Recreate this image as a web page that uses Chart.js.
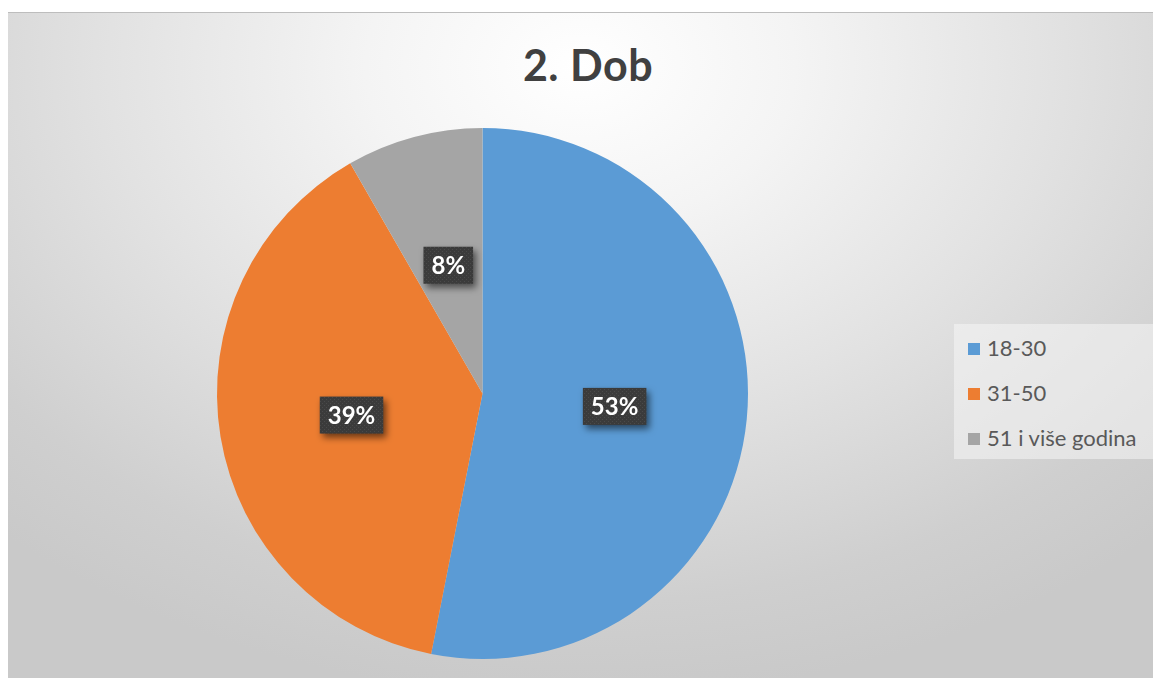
<!DOCTYPE html>
<html>
<head>
<meta charset="utf-8">
<script src="https://cdn.jsdelivr.net/npm/chart.js@4/dist/chart.umd.min.js"></script>
<style>
  html, body { margin: 0; padding: 0; background: #fff; }
  body { width: 1153px; height: 678px; position: relative; overflow: hidden; font-family: Lato, "Open Sans", sans-serif; }
  #frame {
    position: absolute; left: 8px; top: 12px; width: 1145px; height: 666px;
    background: radial-gradient(ellipse 75% 95% at 50% 8%, #ffffff 0%, #f4f4f4 25%, #e2e2e2 55%, #cfcfcf 85%, #c9c9c9 100%);
    border-top: 1px solid #bdbdbd;
    box-sizing: border-box;
  }
  #title {
    position: absolute; left: 0; top: 26px; width: 1160px; text-align: center;
    font-size: 43px; font-weight: bold; color: #404040; letter-spacing: 0.5px;
  }
  #legend {
    position: absolute; left: 946px; top: 311px; width: 199px; height: 135px;
    background: rgba(245, 245, 245, 0.55);
  }
  .item { position: absolute; left: 14px; font-size: 22px; line-height: 26px; color: #595959; white-space: nowrap; }
  .item span { display: inline-block; width: 12px; height: 12px; margin-right: 7px; vertical-align: 1px; }
  canvas { position: absolute; left: 0; top: 0; }
</style>
</head>
<body>
<div id="frame">
  <div id="title">2. Dob</div>
  <div id="legend"></div>
  <canvas id="pie" width="1145" height="666"></canvas>
</div>
<script>
// podaci
const categories = ['18-30', '31-50', '51 i više godina'];
const shares = [53.1, 38.6, 8.3];
const colors = ['#5B9BD5', '#ED7D31', '#A5A5A5'];

// legenda (HTML)
const legend = document.getElementById('legend');
categories.forEach((c, i) => {
  const el = document.createElement('div');
  el.className = 'item';
  el.style.top = (11 + i * 45) + 'px';
  el.innerHTML = `<span style="background:${colors[i]}"></span>${c}`;
  legend.appendChild(el);
});

// tamni uzorak za oznake
function labelPattern(ctx) {
  const p = document.createElement('canvas');
  p.width = 4; p.height = 4;
  const g = p.getContext('2d');
  g.fillStyle = '#3b3b3b';
  g.fillRect(0, 0, 4, 4);
  g.fillStyle = '#4a4a4a';
  g.fillRect(0, 0, 1, 1);
  g.fillRect(2, 2, 1, 1);
  return ctx.createPattern(p, 'repeat');
}

const dataLabels = {
  id: 'dataLabels',
  afterDatasetsDraw(chart) {
    const ctx = chart.ctx;
    const meta = chart.getDatasetMeta(0);
    const total = shares.reduce((a, b) => a + b, 0);
    const pattern = labelPattern(ctx);
    ctx.save();
    ctx.font = 'bold 24px Lato, "Open Sans", sans-serif';
    ctx.textAlign = 'center';
    ctx.textBaseline = 'middle';
    meta.data.forEach((arc, i) => {
      const { x, y, startAngle, endAngle, outerRadius } = arc.getProps(['x', 'y', 'startAngle', 'endAngle', 'outerRadius'], true);
      const mid = (startAngle + endAngle) / 2;
      const lx = x + Math.cos(mid) * outerRadius * 0.5;
      const ly = y + Math.sin(mid) * outerRadius * 0.5;
      const text = Math.round(shares[i] / total * 100) + '%';
      const w = ctx.measureText(text).width + 16;
      const h = 37;
      ctx.save();
      ctx.shadowColor = 'rgba(0,0,0,0.55)';
      ctx.shadowBlur = 7;
      ctx.shadowOffsetX = 3;
      ctx.shadowOffsetY = 4;
      ctx.fillStyle = pattern;
      ctx.fillRect(lx - w / 2, ly - h / 2, w, h);
      ctx.restore();
      ctx.fillStyle = '#ffffff';
      ctx.fillText(text, lx, ly + 1);
    });
    ctx.restore();
  }
};

new Chart(document.getElementById('pie'), {
  type: 'pie',
  data: {
    labels: categories,
    datasets: [{
      data: shares,
      backgroundColor: colors,
      borderWidth: 0
    }]
  },
  options: {
    responsive: false,
    animation: false,
    layout: { padding: { left: 209, right: 405, top: 115, bottom: 20 } },
    plugins: {
      legend: { display: false },
      tooltip: { enabled: false }
    }
  },
  plugins: [dataLabels]
});
</script>
</body>
</html>
